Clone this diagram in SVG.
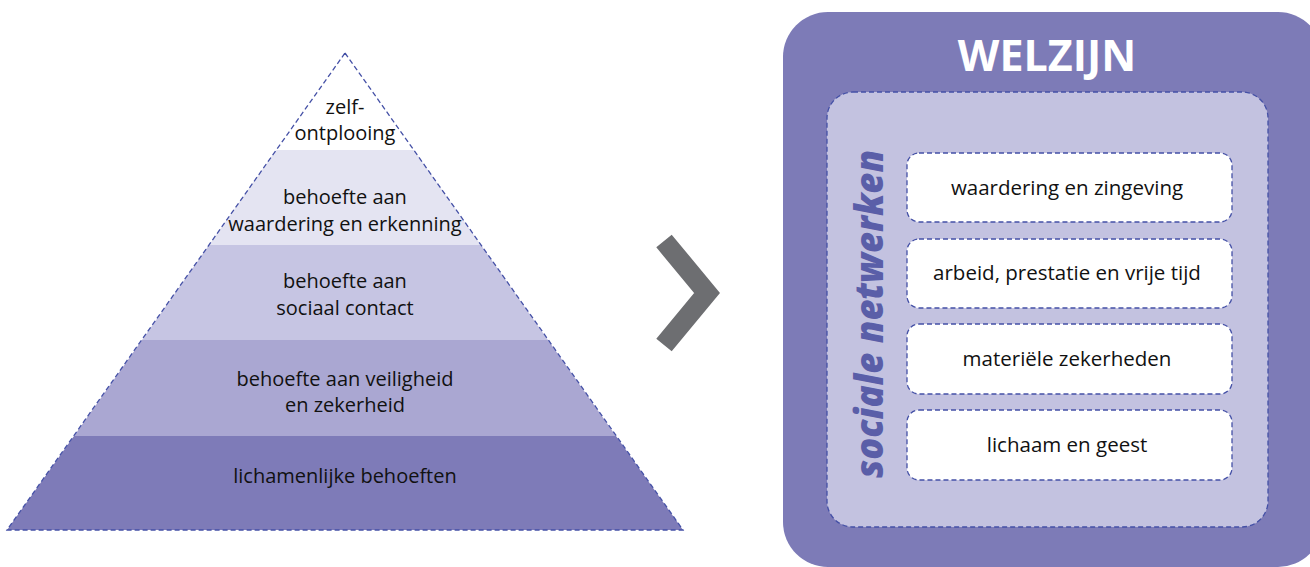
<svg xmlns="http://www.w3.org/2000/svg" width="1310" height="567" viewBox="0 0 1310 567">
<style>
.t{font-family:"Open Sans","Liberation Sans",sans-serif;font-size:20px;fill:#111111;text-anchor:middle}
.tb{font-family:"Open Sans","Liberation Sans",sans-serif;font-size:20.5px;fill:#111111;text-anchor:middle}
.dash{fill:none;stroke:#4450a6;stroke-width:1.3;stroke-dasharray:5 3}
.box{fill:#ffffff;stroke:#4450a6;stroke-width:1.3;stroke-dasharray:5 3}
</style>
<rect width="1310" height="567" fill="#ffffff"/>
<g id="pyramid">
  <g id="level-5">
    <polygon points="345,53 276,150 414,150" fill="#ffffff"/>
    <text class="t" x="345" y="114">zelf-</text>
    <text class="t" x="345" y="140">ontplooing</text>
  </g>
  <g id="level-4">
    <polygon points="276,150 414,150 481,245 209,245" fill="#e4e4f2"/>
    <text class="t" x="345" y="204">behoefte aan</text>
    <text class="t" x="345" y="231">waardering en erkenning</text>
  </g>
  <g id="level-3">
    <polygon points="209,245 481,245 548,340 142,340" fill="#c6c5e3"/>
    <text class="t" x="345" y="288">behoefte aan</text>
    <text class="t" x="345" y="315">sociaal contact</text>
  </g>
  <g id="level-2">
    <polygon points="142,340 548,340 616,436 74,436" fill="#aaa7d2"/>
    <text class="t" x="345" y="386">behoefte aan veiligheid</text>
    <text class="t" x="345" y="412">en zekerheid</text>
  </g>
  <g id="level-1">
    <polygon points="74,436 616,436 683,530 7,530" fill="#7e7bb8"/>
    <text class="t" x="345" y="483">lichamenlijke behoeften</text>
  </g>
  <polygon class="dash" points="345,53 683,530 7,530"/>
</g>
<g id="connectors">
  <polyline points="664,241 707,293 664,345" fill="none" stroke="#6d6e71" stroke-width="20" stroke-linejoin="miter" stroke-miterlimit="10"/>
</g>
<g id="welzijn">
  <rect x="783" y="12" width="540" height="555" rx="45" fill="#7d7bb7"/>
  <text x="1047" y="71" style="font-family:'Open Sans','Liberation Sans',sans-serif;font-weight:bold;font-size:43px;fill:#ffffff;text-anchor:middle">WELZIJN</text>
</g>
<g id="sociale-netwerken">
  <rect class="dash" x="827" y="92" width="441" height="435" rx="26" style="fill:#c3c2e0"/>
  <text transform="translate(883,314) rotate(-90)" style="font-family:'Open Sans','Liberation Sans',sans-serif;font-weight:800;font-style:italic;font-size:39px;fill:#5a5ea8;text-anchor:middle" textLength="328" lengthAdjust="spacingAndGlyphs">sociale netwerken</text>
</g>
<g id="box-1">
  <rect class="box" x="907" y="153" width="325" height="69" rx="12"/>
  <text class="tb" x="1067" y="195">waardering en zingeving</text>
</g>
<g id="box-2">
  <rect class="box" x="907" y="239" width="325" height="69" rx="12"/>
  <text class="tb" x="1067" y="280">arbeid, prestatie en vrije tijd</text>
</g>
<g id="box-3">
  <rect class="box" x="907" y="324" width="325" height="70" rx="12"/>
  <text class="tb" x="1067" y="366">materiële zekerheden</text>
</g>
<g id="box-4">
  <rect class="box" x="907" y="410" width="325" height="70" rx="12"/>
  <text class="tb" x="1067" y="452">lichaam en geest</text>
</g>
</svg>
